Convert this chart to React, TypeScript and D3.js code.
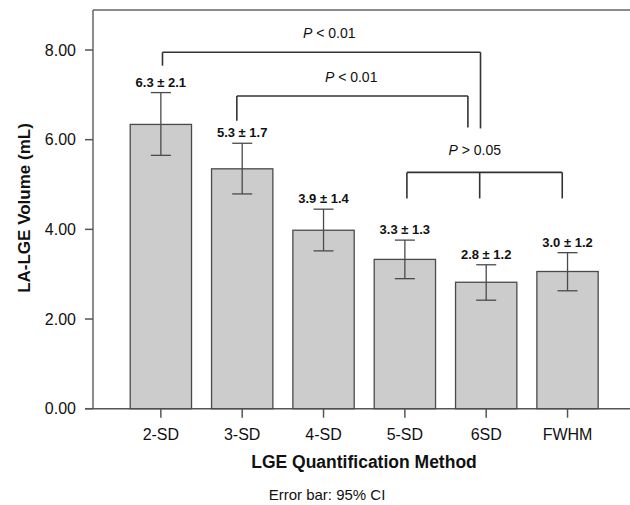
import React from 'react';
import * as d3 from 'd3';

// LA-LGE volume by quantification method (mean and 95% CI)
const methods = ['2-SD', '3-SD', '4-SD', '5-SD', '6SD', 'FWHM'];
const means = [6.34, 5.35, 3.98, 3.33, 2.82, 3.06];
const ciLow = [5.65, 4.79, 3.52, 2.9, 2.42, 2.63];
const ciHigh = [7.05, 5.92, 4.45, 3.76, 3.21, 3.48];
const valueLabels = ['6.3 ± 2.1', '5.3 ± 1.7', '3.9 ± 1.4', '3.3 ± 1.3', '2.8 ± 1.2', '3.0 ± 1.2'];
const yTicks = [0, 2, 4, 6, 8];

// significance brackets: x in category-index units, y in mL
const bracketText = ['< 0.01', '< 0.01', '> 0.05'];
const bracketLevel = [7.95, 6.975, 5.27];
const bracketLegs = [
  [[0.02, 7.65], [3.93, 6.25]],
  [[0.934, 6.42], [3.775, 6.27]],
  [[3.025, 4.69], [3.92, 4.69], [4.935, 4.69]],
];
const bracketLabelAt = [2.07, 2.34, 3.86];

const W = 630;
const H = 505;
const font = 'Arial, "Liberation Sans", Helvetica, sans-serif';

const App = () => {
  const x = d3.scaleBand<string>()
    .domain(methods)
    .range([120.2, 608.2])
    .paddingInner(0.246)
    .paddingOuter(0.123);

  const y = d3.scaleLinear().domain([0, 8]).range([408.7, 50]);

  // category index -> centre pixel, for the brackets
  const xi = d3.scaleLinear()
    .domain([0, methods.length - 1])
    .range([x(methods[0])! + x.bandwidth() / 2, x(methods[methods.length - 1])! + x.bandwidth() / 2]);

  const left = 93;
  const fmt = d3.format('.2f');
  const cap = 10;

  return (
    <svg width={W} height={H} style={{ position: 'absolute', left: 0, top: 0, background: '#fff' }} fontFamily={font}>
      {/* frame */}
      <line x1={left} x2={W} y1={y(8.89)} y2={y(8.89)} stroke="#666" strokeWidth={1.5} />
      <line x1={left} x2={left} y1={y(8.89)} y2={y(0)} stroke="#666" strokeWidth={1.5} />
      <line x1={85} x2={W} y1={y(0)} y2={y(0)} stroke="#555" strokeWidth={1.5} />

      {/* y axis */}
      {yTicks.map(t => (
        <g key={t}>
          <line x1={85} x2={left} y1={y(t)} y2={y(t)} stroke="#555" strokeWidth={1.5} />
          <text x={76} y={y(t)} dy="0.36em" textAnchor="end" fontSize={16} fill="#111">{fmt(t)}</text>
        </g>
      ))}
      <text transform={`translate(30,${208}) rotate(-90)`} textAnchor="middle" fontSize={17} fontWeight="bold" fill="#111">
        LA-LGE Volume (mL)
      </text>

      {/* bars */}
      {methods.map((m, i) => {
        const cx = x(m)! + x.bandwidth() / 2;
        return (
          <g key={m}>
            <rect x={x(m)} y={y(means[i])} width={x.bandwidth()} height={y(0) - y(means[i])}
              fill="#cccccc" stroke="#4a4a4a" strokeWidth={1.3} />
            <line x1={cx} x2={cx} y1={y(ciHigh[i])} y2={y(ciLow[i])} stroke="#4a4a4a" strokeWidth={1.3} />
            <line x1={cx - cap} x2={cx + cap} y1={y(ciHigh[i])} y2={y(ciHigh[i])} stroke="#4a4a4a" strokeWidth={1.3} />
            <line x1={cx - cap} x2={cx + cap} y1={y(ciLow[i])} y2={y(ciLow[i])} stroke="#4a4a4a" strokeWidth={1.3} />
            <text x={cx} y={y(ciHigh[i]) - 6} textAnchor="middle" fontSize={13} fontWeight="bold" fill="#111">
              {valueLabels[i]}
            </text>
            <line x1={cx} x2={cx} y1={y(0)} y2={y(0) + 9} stroke="#555" strokeWidth={1.5} />
            <text x={cx} y={440} textAnchor="middle" fontSize={16} fill="#111">{m}</text>
          </g>
        );
      })}

      {/* significance brackets */}
      {bracketLegs.map((legs, b) => {
        const xs = legs.map(l => xi(l[0]));
        return (
          <g key={b}>
            <line x1={d3.min(xs)} x2={d3.max(xs)} y1={y(bracketLevel[b])} y2={y(bracketLevel[b])}
              stroke="#333" strokeWidth={1.6} />
            {legs.map((l, k) => (
              <line key={k} x1={xi(l[0])} x2={xi(l[0])} y1={y(bracketLevel[b])} y2={y(l[1])}
                stroke="#333" strokeWidth={1.6} />
            ))}
            <text x={xi(bracketLabelAt[b])} y={y(bracketLevel[b]) - (b === 2 ? 17 : 14)} textAnchor="middle"
              fontSize={14} fill="#111">
              <tspan fontStyle="italic">P</tspan>
              <tspan> {bracketText[b]}</tspan>
            </text>
          </g>
        );
      })}

      <text x={364} y={468} textAnchor="middle" fontSize={17.5} fontWeight="bold" fill="#111">
        LGE Quantification Method
      </text>
      <text x={327} y={500} textAnchor="middle" fontSize={15} fill="#111">Error bar: 95% CI</text>
    </svg>
  );
};

export default App;
